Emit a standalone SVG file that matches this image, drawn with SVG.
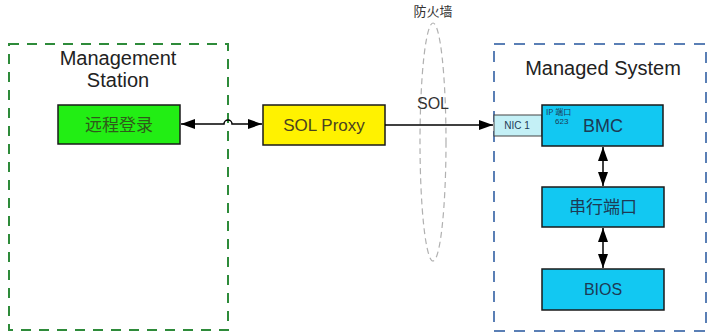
<svg xmlns="http://www.w3.org/2000/svg" width="707" height="333" viewBox="0 0 707 333">
<defs>
<style>
text{font-family:"Liberation Sans",Arial,"Noto Sans CJK SC",sans-serif;}
.cjk{font-family:"Noto Sans CJK SC","Liberation Sans",sans-serif;}
.box{stroke:#1a1a1a;stroke-width:1.5;}
.blue{fill:#12c8f2;}
.conn{stroke:#000;stroke-width:1.5;fill:none;}
.bt{fill:#1d3a55;text-anchor:middle;}
</style>
<marker id="ah" viewBox="0 0 14 10" refX="14" refY="5" markerWidth="14" markerHeight="10" markerUnits="userSpaceOnUse" orient="auto-start-reverse">
<path d="M0,0 L14,5 L0,10 z" fill="#000"/>
</marker>
</defs>
<rect width="707" height="333" fill="#fff"/>

<g id="station">
<rect x="9" y="44" width="219" height="286" fill="none" stroke="#2e8b3a" stroke-width="2" stroke-dasharray="10,8"/>
<text x="118" y="65" font-size="20" text-anchor="middle" fill="#222">Management</text>
<text x="118" y="87" font-size="20" text-anchor="middle" fill="#222">Station</text>
</g>

<g id="managed">
<rect x="494" y="44" width="212" height="287" fill="none" stroke="#5a7fb5" stroke-width="2" stroke-dasharray="11,9"/>
<text x="603" y="75" font-size="20" text-anchor="middle" fill="#222">Managed System</text>
</g>

<g id="firewall">
<ellipse cx="433" cy="142" rx="13" ry="119" fill="none" stroke="#b0b0b0" stroke-width="1.2" stroke-dasharray="6,4"/>
<text x="433" y="16" font-size="13" text-anchor="middle" fill="#333" class="cjk">防火墙</text>
</g>

<g id="remote">
<rect class="box" x="58" y="105" width="122" height="39" fill="#22ee14"/>
<text x="119" y="131" font-size="17" text-anchor="middle" fill="#2f5a1a" class="cjk">远程登录</text>
</g>

<g id="proxy">
<rect class="box" x="263" y="105" width="122" height="40" fill="#fff200"/>
<text x="324" y="131" font-size="17" text-anchor="middle" fill="#4a4320">SOL Proxy</text>
</g>

<g id="nic">
<rect x="494" y="115" width="48" height="21" fill="#c4f0f6" stroke="#444" stroke-width="1"/>
<text x="517" y="129" font-size="10" text-anchor="middle" fill="#1d3a55">NIC 1</text>
</g>

<g id="bmc">
<rect class="box blue" x="542" y="105" width="121" height="41"/>
<text x="546" y="115" font-size="8" fill="#1d3a55" class="cjk">IP 端口</text>
<text x="555" y="124" font-size="8" fill="#1d3a55">623</text>
<text x="603" y="132" font-size="18" class="bt">BMC</text>
</g>

<g id="serial">
<rect class="box blue" x="542" y="187" width="122" height="40"/>
<text x="603" y="213" font-size="17" class="bt cjk">串行端口</text>
</g>

<g id="bios">
<rect class="box blue" x="542" y="269" width="122" height="41"/>
<text x="603" y="295" font-size="16" class="bt">BIOS</text>
</g>

<g id="connectors">
<path class="conn" d="M181,124 H224 A4,4 0 0 1 232,124 H262" marker-start="url(#ah)" marker-end="url(#ah)"/>
<path class="conn" d="M385,125 H493" marker-end="url(#ah)"/>
<text x="433" y="109" font-size="16" text-anchor="middle" fill="#333">SOL</text>
<path class="conn" d="M603,147 V186" stroke-width="2" marker-start="url(#ah)" marker-end="url(#ah)"/>
<path class="conn" d="M603,228 V268" stroke-width="2" marker-start="url(#ah)" marker-end="url(#ah)"/>
</g>
</svg>
